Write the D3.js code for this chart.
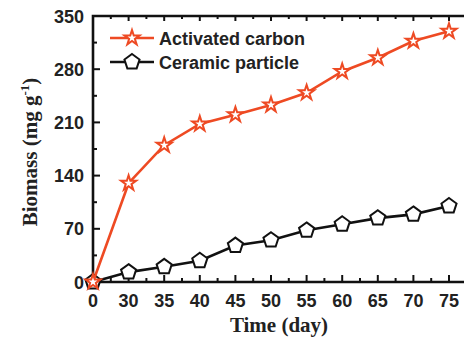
<!DOCTYPE html>
<html>
<head>
<meta charset="utf-8">
<script src="https://cdn.jsdelivr.net/npm/d3@7"></script>
<style>
  body { margin: 0; background: #fff; }
  svg { display: block; }
</style>
</head>
<body>
<script>
// data
let days = [0, 30, 35, 40, 45, 50, 55, 60, 65, 70, 75];
let carbon = [0, 130, 180, 208, 220, 233, 249, 277, 295, 317, 330];
let ceramic = [0, 13, 20, 28, 48, 55, 68, 76, 84, 89, 100];
let yTicks = [0, 70, 140, 210, 280, 350];
let seriesNames = ["Activated carbon", "Ceramic particle"];

let W = 464, H = 342;
let margin = {top: 16, left: 93};

let svg = d3.select("body").append("svg")
    .attr("width", W)
    .attr("height", H);

let x = d3.scalePoint()
    .domain(days)
    .range([margin.left, 449]);

let y = d3.scaleLinear()
    .domain([0, 350])
    .range([282, margin.top]);

let red = "#ee4a23";
let right = W + 10;

// minor tick positions (midpoints)
let minorX = [];
for (let i = 0; i < days.length - 1; i++) minorX.push((x(days[i]) + x(days[i + 1])) / 2);
minorX.push(x(75) + (x(75) - x(70)) / 2);
let minorY = [35, 105, 175, 245, 315];

let axisG = svg.append("g").attr("stroke", "#111").attr("stroke-width", 2);

// frame
axisG.append("path")
    .attr("fill", "none")
    .attr("stroke-width", 2.6)
    .attr("d", "M" + right + "," + y(350) + "H" + x(0) + "V" + y(0) + "H" + right);

// x ticks bottom and top
days.forEach(d => {
  axisG.append("line").attr("x1", x(d)).attr("x2", x(d)).attr("y1", y(0)).attr("y2", y(0) - 7);
  axisG.append("line").attr("x1", x(d)).attr("x2", x(d)).attr("y1", y(350)).attr("y2", y(350) + 5);
});
minorX.forEach(v => {
  axisG.append("line").attr("x1", v).attr("x2", v).attr("y1", y(0)).attr("y2", y(0) - 4);
  axisG.append("line").attr("x1", v).attr("x2", v).attr("y1", y(350)).attr("y2", y(350) + 3);
});

// y ticks
yTicks.forEach(t => {
  axisG.append("line").attr("x1", x(0)).attr("x2", x(0) + 7).attr("y1", y(t)).attr("y2", y(t));
});
minorY.forEach(t => {
  axisG.append("line").attr("x1", x(0)).attr("x2", x(0) + 4).attr("y1", y(t)).attr("y2", y(t));
});

// tick labels
svg.selectAll(".xl").data(days).enter().append("text")
    .attr("x", d => x(d))
    .attr("y", 307)
    .attr("text-anchor", "middle")
    .style("font", "bold 18px 'Liberation Sans', Arial, sans-serif")
    .attr("fill", "#222")
    .text(d => d);

svg.selectAll(".yl").data(yTicks).enter().append("text")
    .attr("x", 84)
    .attr("y", d => y(d) + 6.5)
    .attr("text-anchor", "end")
    .style("font", "bold 18px 'Liberation Sans', Arial, sans-serif")
    .attr("fill", "#222")
    .text(d => d);

// axis titles
svg.append("text")
    .attr("x", 279)
    .attr("y", 332)
    .attr("text-anchor", "middle")
    .style("font", "bold 21px 'Liberation Serif', 'Times New Roman', serif")
    .attr("fill", "#222")
    .text("Time (day)");

let yt = svg.append("text")
    .attr("transform", "translate(37,152) rotate(-90)")
    .attr("text-anchor", "middle")
    .style("font", "bold 21px 'Liberation Serif', 'Times New Roman', serif")
    .attr("fill", "#222");
yt.append("tspan").text("Biomass (mg g");
yt.append("tspan").attr("dy", -8).style("font-size", "13px").text("-1");
yt.append("tspan").attr("dy", 8).text(")");

// lines
let line = d3.line()
    .x((d, i) => x(days[i]))
    .y(d => y(d));

let star = d3.symbol().type(d3.symbolStar).size(70);
let penta = d3.symbol().type({
  draw(ctx, size) {
    let r = Math.sqrt(size / 2.38);
    for (let i = 0; i < 5; i++) {
      let a = -Math.PI / 2 + i * 2 * Math.PI / 5;
      let px = r * Math.cos(a), py = r * Math.sin(a);
      if (i === 0) ctx.moveTo(px, py); else ctx.lineTo(px, py);
    }
    ctx.closePath();
  }
}).size(150);

function drawSeries(vals, color, sym) {
  svg.append("path")
      .datum(vals)
      .attr("fill", "none")
      .attr("stroke", color)
      .attr("stroke-width", 2.6)
      .attr("d", line);
  svg.selectAll(null).data(vals).enter().append("path")
      .attr("transform", (d, i) => "translate(" + x(days[i]) + "," + y(d) + ")")
      .attr("d", sym)
      .attr("fill", "#fff")
      .attr("stroke", color)
      .attr("stroke-width", 2);
}

drawSeries(ceramic, "#111", penta);
drawSeries(carbon, red, star);

// legend
let legend = [
  {name: seriesNames[0], color: red, sym: star, yy: 38},
  {name: seriesNames[1], color: "#111", sym: penta, yy: 62}
];
legend.forEach(l => {
  svg.append("line")
      .attr("x1", 110).attr("x2", 154)
      .attr("y1", l.yy).attr("y2", l.yy)
      .attr("stroke", l.color).attr("stroke-width", 2.6);
  svg.append("path")
      .attr("transform", "translate(132," + l.yy + ")")
      .attr("d", l.sym)
      .attr("fill", "#fff")
      .attr("stroke", l.color)
      .attr("stroke-width", 2);
  svg.append("text")
      .attr("x", 159)
      .attr("y", l.yy + 6.5)
      .style("font", "bold 18px 'Liberation Sans', Arial, sans-serif")
      .attr("fill", "#222")
      .text(l.name);
});
</script>
</body>
</html>
